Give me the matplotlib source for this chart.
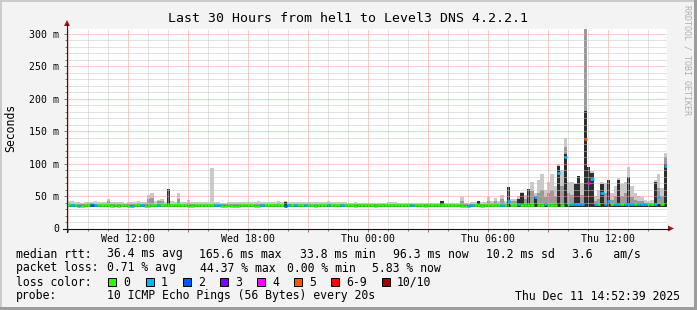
import matplotlib
matplotlib.use('Agg')
import matplotlib.pyplot as plt
from matplotlib.transforms import Affine2D
from matplotlib.lines import Line2D
from matplotlib.patches import Rectangle, Polygon
from matplotlib.ticker import FixedLocator, MultipleLocator
import numpy as np

W, H = 697, 310
MONO = 'DejaVu Sans Mono'

# ---------------- data (10-minute steps, hours since Wed 00:00) ----------------
T0 = 8.95            # Wed 08:57
STEP_H = 1.0 / 6.0

median_ms = [
    36,36,36,34,34,36,36,36,36,36, 36,36,36,34,36,34,36,36,34,34,
    36,36,36,34,34,36,36,36,36,36, 36,36,36,36,36,36,34,34,36,36,
    36,36,36,36,36,36,34,34,36,34, 34,34,36,36,36,36,34,34,36,36,
    36,36,36,36,36,34,36,36,36,36, 36,36,36,36,34,36,36,36,36,36,
    36,36,36,36,36,36,34,36,36,36, 36,36,34,36,36,36,36,36,36,36,
    36,36,36,36,36,36,36,34,36,36, 36,36,36,36,36,36,36,36,34,34,
    34,36,36,36,34,36,36,36,36,36, 36,36,43,36,36,38,36,36,36,36,
    48,36,36,38,36,36,36,85,36,110, 37,37,37,37,37,138,70,77,37,37,
    54,37,43,37,37,37,37,37,37,37, 37,37,37,37,37,37,37,48,37,96,
]
loss = [
    0,1,0,1,0,0,0,2,1,0, 0,0,0,0,0,0,0,0,0,1,
    0,0,1,0,0,0,0,1,0,0, 0,0,0,0,0,0,0,0,0,0,
    0,0,0,0,1,1,0,0,0,0, 0,0,0,0,0,0,0,0,1,0,
    0,0,0,0,0,2,1,0,1,0, 0,1,0,0,0,0,0,0,1,0,
    0,0,1,0,0,0,0,0,0,0, 0,0,0,0,0,0,0,0,0,0,
    0,0,0,1,0,0,0,0,0,0, 0,0,0,0,0,0,0,0,0,0,
    1,1,0,0,0,0,0,0,0,0, 1,0,1,0,0,1,0,0,0,0,
    1,0,0,1,0,0,0,1,0,1, 0,1,1,1,1,5,4,1,1,0,
    1,1,1,0,1,1,0,1,1,1, 0,1,1,1,0,0,1,1,0,1,
]
smoke_max = [
    42,42,41,41,40,41,41,41,42,41, 41,41,46,41,41,41,41,40,41,41,
    41,43,41,41,52,54,42,44,46,41, 61,42,41,54,41,41,44,41,41,41,
    41,41,41,93,41,41,40,40,41,41, 41,41,41,41,41,41,41,42,41,41,
    41,41,41,43,41,42,41,41,41,41, 41,41,41,41,41,41,41,41,43,41,
    41,41,41,41,40,40,41,40,39,39, 39,39,39,39,39,39,41,41,41,39,
    39,39,39,39,39,39,39,39,39,39, 39,39,42,39,39,39,39,39,49,39,
    39,41,41,42,41,41,49,42,47,42, 52,43,64,45,45,50,56,51,61,71,
    55,74,84,60,72,84,65,100,90,140, 71,71,70,81,70,310,95,89,50,60,
    72,70,74,55,66,78,68,72,94,66, 55,50,48,44,42,44,74,84,62,117,
]
smoke_mid = [
    39,38,38,38,38,38,39,39,38,38, 38,38,42,38,38,38,38,38,38,38,
    38,40,38,38,45,47,38,42,42,38, 55,38,38,46,38,38,40,38,38,38,
    38,38,38,38,38,38,38,38,38,38, 38,38,38,38,38,38,38,38,38,38,
    38,38,38,40,38,40,38,38,38,38, 38,38,38,38,38,38,38,38,40,38,
    38,38,38,38,38,38,38,38,37,37, 37,37,37,37,37,37,38,38,38,37,
    37,37,37,37,37,37,37,37,37,37, 37,37,41,37,37,37,37,37,42,37,
    37,38,38,42,38,38,42,39,42,39, 45,40,60,42,42,46,50,46,58,58,
    50,55,60,48,55,60,50,97,65,125, 55,52,60,70,52,310,94,86,42,46,
    62,55,65,44,50,68,50,55,80,48, 44,42,42,39,39,39,65,62,50,110,
]
smoke_core = [
    36,36,36,36,36,36,36,36,36,36, 36,36,36,36,36,36,36,36,36,36,
    36,36,36,36,36,36,36,36,36,36, 61,36,36,36,36,36,36,36,36,36,
    36,36,36,36,36,36,36,36,36,36, 36,36,36,36,36,36,36,36,36,36,
    36,36,36,36,36,41,36,36,36,36, 36,36,36,36,36,36,36,36,36,36,
    36,36,36,36,36,36,36,36,36,36, 36,36,36,36,36,36,36,36,36,36,
    36,36,36,36,36,36,36,36,36,36, 36,36,42,36,36,36,36,36,36,36,
    36,36,36,42,36,36,36,36,36,36, 36,36,64,36,36,45,54,38,61,38,
    48,38,38,38,38,38,38,97,38,115, 38,38,69,81,38,181,94,85,38,38,
    69,38,74,38,38,75,38,38,80,38, 38,38,38,38,38,38,71,38,38,100,
]
smoke_floor = 33.5

loss_colors = ['#26ff00', '#00b8ff', '#0059ff', '#7e00ff',
               '#ff00ff', '#ff5500', '#ff0000', '#a10000']
loss_labels = ['0', '1', '2', '3', '4', '5', '6-9', '10/10']

y_ticks = [0, 50, 100, 150, 200, 250, 300]
y_tick_labels = ['0', '50 m', '100 m', '150 m', '200 m', '250 m', '300 m']
x_label_hours = [12, 18, 24, 30, 36]
x_labels = ['Wed 12:00', 'Wed 18:00', 'Thu 00:00', 'Thu 06:00', 'Thu 12:00']

title = 'Last 30 Hours from hel1 to Level3 DNS 4.2.2.1'
legend_lines = [
    [(16, 'median rtt:'), (107, '36.4 ms avg'), (199, '165.6 ms max'),
     (300, '33.8 ms min'), (393, '96.3 ms now'), (486, '10.2 ms sd'),
     (572, '3.6   am/s')],
    [(16, 'packet loss:'), (107, '0.71 % avg'), (200, '44.37 % max'),
     (287, '0.00 % min'), (372, '5.83 % now')],
]
probe_text = '10 ICMP Echo Pings (56 Bytes) every 20s'
stamp_text = 'Thu Dec 11 14:52:39 2025'

# ---------------- figure ----------------
fig = plt.figure(figsize=(W / 100, H / 100), dpi=100, facecolor='#f3f3f3')
px = Affine2D().scale(1 / W, -1 / H).translate(0, 1) + fig.transFigure

# 3D frame
for (x0, y0, w, h, c) in [(0, 0, W, 2, '#cbcbcb'), (0, 0, 2, H, '#cbcbcb'),
                          (0, H - 3, W, 3, '#9c9c9c'), (W - 3, 0, 3, H, '#9c9c9c')]:
    fig.add_artist(Rectangle((x0, y0), w, h, transform=px, color=c, lw=0))

ax = fig.add_axes([67 / W, 1 - 228.5 / H, 600 / W, 200 / H])
ax.set_facecolor('white')
ax.set_xlim(T0, T0 + 30)
ax.set_ylim(0, 308)
for s in ax.spines.values():
    s.set_visible(False)

N = len(median_ms)
t = T0 + np.arange(N) * STEP_H
for arr, col in [(smoke_max, '#cacaca'), (smoke_mid, '#9a9a9a'), (smoke_core, '#2e2e2e')]:
    a = np.array(arr, dtype=float)
    ax.bar(t, a - smoke_floor, width=STEP_H, bottom=smoke_floor, align='edge',
           color=col, linewidth=0, zorder=1, antialiased=False)

def loss_idx(v):
    if v <= 5:
        return v
    if v < 10:
        return 6
    return 7

seg_cols = [loss_colors[loss_idx(v)] for v in loss]
ax.hlines(median_ms, t, t + STEP_H, colors=seg_cols, linewidth=1.9, zorder=3,
          capstyle='butt')

# grid / ticks
ax.yaxis.set_major_locator(FixedLocator(y_ticks))
ax.yaxis.set_minor_locator(MultipleLocator(10))
ax.set_yticklabels(y_tick_labels, family=MONO, fontsize=7.1)
ax.xaxis.set_major_locator(FixedLocator(list(range(9, 39, 3))))
ax.xaxis.set_minor_locator(MultipleLocator(1))
ax.set_xticklabels([x_labels[x_label_hours.index(h)] if h in x_label_hours else ''
                    for h in range(9, 39, 3)], family=MONO, fontsize=7.1)
ax.set_axisbelow(False)
ax.grid(which='minor', color='#c4c4c4', linestyle=(0, (1, 1)), linewidth=0.72,
        snap=True)
ax.grid(which='major', color='#f29a9a', linestyle=(0, (1, 1)), linewidth=0.72,
        snap=True)
ax.tick_params(which='both', direction='out', color='#808080', width=0.72)
ax.tick_params(which='major', length=2.2)
ax.tick_params(which='minor', length=1.5)
ax.tick_params(axis='y', which='major', pad=3.6)
ax.tick_params(axis='x', which='major', pad=2.0)

# axis lines and arrows
fig.add_artist(Line2D([67, 67], [232, 24], transform=px, color='#202020', lw=0.8))
fig.add_artist(Line2D([63, 669], [228.5, 228.5], transform=px, color='#101010', lw=0.8))
fig.add_artist(Polygon([(64, 26), (70, 26), (67, 20)], closed=True, transform=px,
                       color='#9b1b1b', lw=0))
fig.add_artist(Polygon([(668, 225.5), (668, 231.5), (674, 228.5)], closed=True,
                       transform=px, color='#9b1b1b', lw=0))

# texts
fig.text(348, 19, title, transform=px, ha='center', va='center', family=MONO, fontsize=9.5)
fig.text(11, 128, 'Seconds', transform=px, ha='center', va='center', rotation=90,
         family=MONO, fontsize=8.3)
fig.text(687, 5, 'RRDTOOL / TOBI OETIKER', transform=px, ha='center', va='top',
         rotation=270, family=MONO, fontsize=6, color='#b0b0b0')

LEG = 8.3
for row, y in zip(legend_lines, [254, 268]):
    for x, s in row:
        fig.text(x, y, s, transform=px, ha='left', va='center', family=MONO, fontsize=LEG)

fig.text(16, 282, 'loss color:', transform=px, ha='left', va='center', family=MONO, fontsize=LEG)
box_x = [108, 146, 183, 220, 257, 294, 331, 382]
for bx, c, lab in zip(box_x, loss_colors, loss_labels):
    fig.add_artist(Rectangle((bx, 278), 8, 8, transform=px, facecolor=c,
                             edgecolor='black', lw=0.72))
    fig.text(bx + 15, 282, lab, transform=px, ha='left', va='center', family=MONO, fontsize=LEG)

fig.text(16, 296, 'probe:', transform=px, ha='left', va='center', family=MONO, fontsize=LEG)
fig.text(107, 296, probe_text, transform=px, ha='left', va='center', family=MONO, fontsize=LEG)
fig.text(680, 296, stamp_text, transform=px, ha='right', va='center', family=MONO, fontsize=LEG)

fig.savefig('out.png', dpi=100, facecolor=fig.get_facecolor())
